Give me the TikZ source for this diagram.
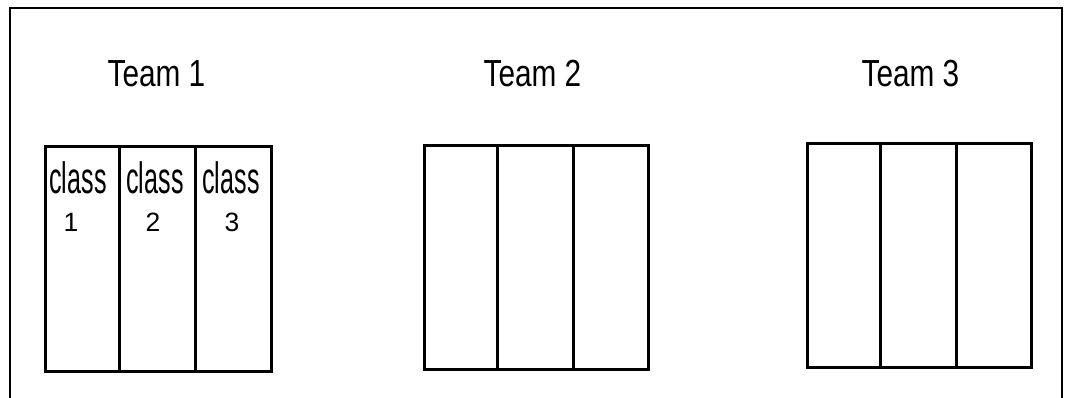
\documentclass[tikz,border=0pt]{standalone}
\usepackage{fontspec}
\setmainfont{Liberation Sans}
\tikzset{
  col/.style={draw, line width=2.6pt, inner sep=0pt, anchor=north west},
  frame/.style={draw, line width=2.6pt},
  teamlbl/.style={anchor=base, inner sep=0pt, font=\fontsize{37.7}{40}\selectfont},
  classlbl/.style={anchor=base, inner sep=0pt, font=\fontsize{44}{46}\selectfont},
  numlbl/.style={anchor=base, inner sep=0pt, font=\fontsize{26.5}{28}\selectfont}
}
\newcommand{\cnd}[2]{\scalebox{#1}[1]{#2}}
\begin{document}
\begin{tikzpicture}[x=1pt,y=-1pt]
\useasboundingbox (0,0) rectangle (1066,398);
% outer frame (open at bottom)
\coordinate (fbl) at (10,400);
\coordinate (ftl) at (10,8);
\coordinate (ftr) at (1062,8);
\coordinate (fbr) at (1062,400);
\draw[frame] (fbl) -- (ftl) -- (ftr) -- (fbr);
% team labels
\node[teamlbl] (t1) at (156.5,87) {\cnd{0.79}{Team 1}};
\node[teamlbl] (t2) at (532.5,87) {\cnd{0.79}{Team 2}};
\node[teamlbl] (t3) at (910.5,87) {\cnd{0.79}{Team 3}};
% team 1 columns
\node[col, minimum width=74pt, minimum height=225pt] (a1) at (44,145) {};
\node[col, minimum width=76pt, minimum height=225pt] (a2) at (118,145) {};
\node[col, minimum width=76pt, minimum height=225pt] (a3) at (194,145) {};
% team 2 columns
\node[col, minimum width=73pt, minimum height=224pt] (b1) at (423,144) {};
\node[col, minimum width=76pt, minimum height=224pt] (b2) at (496,144) {};
\node[col, minimum width=75pt, minimum height=224pt] (b3) at (572,144) {};
% team 3 columns
\node[col, minimum width=73pt, minimum height=224pt] (c1) at (806,142) {};
\node[col, minimum width=76pt, minimum height=224pt] (c2) at (879,142) {};
\node[col, minimum width=75pt, minimum height=224pt] (c3) at (955,142) {};
% class labels
\node[classlbl] (l1) at (78,194) {\cnd{0.57}{class}};
\node[classlbl] (l2) at (155,194) {\cnd{0.57}{class}};
\node[classlbl] (l3) at (231,194) {\cnd{0.57}{class}};
\node[numlbl] (n1) at (71,232) {1};
\node[numlbl] (n2) at (153,232) {2};
\node[numlbl] (n3) at (232,232) {3};
\end{tikzpicture}
\end{document}
